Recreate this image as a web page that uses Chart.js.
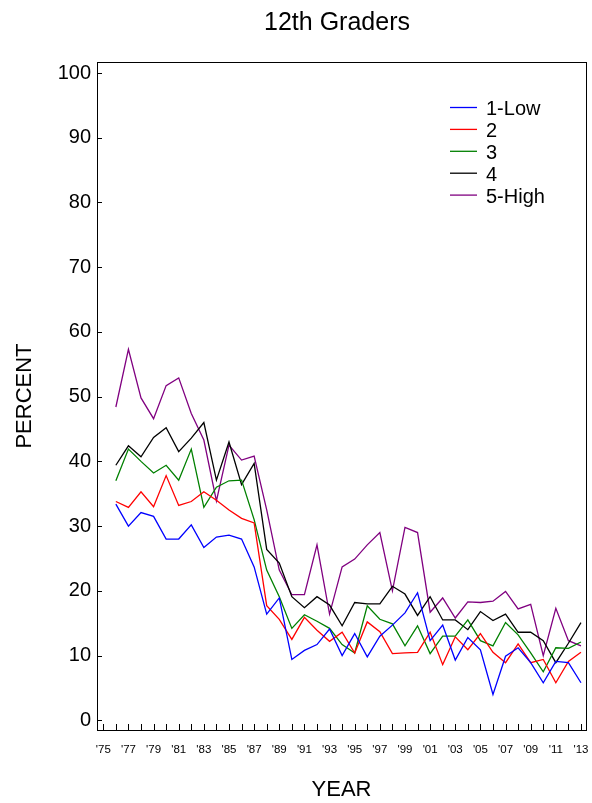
<!DOCTYPE html>
<html>
<head>
<meta charset="utf-8">
<title>12th Graders</title>
<script src="https://cdn.jsdelivr.net/npm/chart.js@4.4.1/dist/chart.umd.min.js"></script>
<style>
  html, body { margin: 0; padding: 0; background: #fff; }
  #wrap { width: 592px; height: 803px; }
</style>
</head>
<body>
<div id="wrap"><canvas id="gradersChart" width="592" height="803"></canvas></div>
<script>
// survey years (data starts in '76)
const years = [1976, 1977, 1978, 1979, 1980, 1981, 1982, 1983, 1984, 1985,
  1986, 1987, 1988, 1989, 1990, 1991, 1992, 1993, 1994, 1995,
  1996, 1997, 1998, 1999, 2000, 2001, 2002, 2003, 2004, 2005,
  2006, 2007, 2008, 2009, 2010, 2011, 2012, 2013];

// percent values per group
const lowValues = [33.4, 30.0, 32.1, 31.5, 28.0, 28.0, 30.2, 26.7, 28.3, 28.6,
  28.0, 23.7, 16.4, 18.9, 9.4, 10.8, 11.7, 14.1, 10.0, 13.4,
  9.8, 13.0, 14.7, 16.6, 19.7, 12.3, 14.7, 9.3, 12.8, 10.9,
  4.0, 9.9, 11.2, 8.9, 5.8, 9.1, 8.9, 5.8];
const group2Values = [33.8, 32.9, 35.3, 33.0, 37.8, 33.2, 33.8, 35.3, 34.0, 32.5,
  31.2, 30.5, 17.7, 15.6, 12.5, 15.9, 13.9, 12.2, 13.6, 10.4,
  15.2, 13.7, 10.3, 10.4, 10.5, 13.6, 8.6, 12.9, 10.9, 13.4,
  10.5, 8.9, 11.8, 8.9, 9.4, 5.8, 9.1, 10.5];
const group3Values = [37.0, 41.9, 40.0, 38.2, 39.4, 37.1, 41.9, 32.9, 36.0, 37.0,
  37.1, 31.0, 23.2, 19.1, 14.2, 16.3, 15.3, 14.2, 11.7, 10.4,
  17.7, 15.6, 14.9, 11.5, 14.6, 10.3, 13.0, 13.0, 15.5, 12.3,
  11.5, 15.1, 13.2, 10.4, 7.5, 11.2, 11.1, 12.1];
const group4Values = [39.4, 42.4, 40.7, 43.7, 45.2, 41.5, 43.6, 46.0, 37.1, 43.0,
  36.4, 39.7, 26.4, 24.3, 19.1, 17.4, 19.1, 17.8, 14.6, 18.2,
  18.0, 18.0, 20.7, 19.5, 16.2, 19.1, 15.5, 15.5, 14.0, 16.8,
  15.4, 16.4, 13.6, 13.6, 12.3, 8.9, 11.9, 15.1];
const highValues = [48.4, 57.3, 49.8, 46.6, 51.7, 52.9, 47.4, 43.3, 33.9, 42.5,
  40.2, 40.8, 32.5, 23.2, 19.4, 19.4, 27.1, 16.4, 23.7, 24.9,
  27.1, 29.0, 20.0, 29.8, 29.0, 16.7, 18.9, 15.8, 18.3, 18.2,
  18.4, 19.9, 17.2, 17.9, 10.0, 17.3, 12.3, 11.5];

const seriesLabels = ['1-Low', '2', '3', '4', '5-High'];
const seriesColors = ['#0000ff', '#ff0000', '#008000', '#000000', '#800080'];

// axis ticks
const xTickYears = [];
for (let y = 1975; y <= 2013; y++) xTickYears.push(y);
const yTickValues = [0, 10, 20, 30, 40, 50, 60, 70, 80, 90, 100];

const FONT = "Arial, 'Liberation Sans', Helvetica, sans-serif";

function toPoints(values) {
  return values.map((v, i) => ({ x: years[i], y: v }));
}

// frame round the plot, inward tick marks, title and legend
const chartDecor = {
  id: 'chartDecor',
  afterDraw(chart) {
    const ctx = chart.ctx;
    const area = chart.chartArea;
    const xs = chart.scales.x;
    const ys = chart.scales.y;
    ctx.save();
    ctx.strokeStyle = '#000';
    ctx.lineWidth = 1;
    ctx.strokeRect(Math.round(area.left) + 0.5, Math.round(area.top) + 0.5,
      Math.round(area.right - area.left), Math.round(area.bottom - area.top));

    ctx.beginPath();
    xTickYears.forEach(v => {
      const px = Math.round(xs.getPixelForValue(v)) + 0.5;
      ctx.moveTo(px, area.bottom);
      ctx.lineTo(px, area.bottom - 6);
    });
    yTickValues.forEach(v => {
      const py = Math.round(ys.getPixelForValue(v)) + 0.5;
      ctx.moveTo(area.left, py);
      ctx.lineTo(area.left + 5, py);
    });
    ctx.stroke();

    // title
    ctx.fillStyle = '#000';
    ctx.font = '25px ' + FONT;
    ctx.textAlign = 'center';
    ctx.textBaseline = 'middle';
    ctx.fillText('12th Graders', 337, 23);

    // legend
    ctx.font = '20px ' + FONT;
    ctx.textAlign = 'left';
    chart.data.datasets.forEach((ds, i) => {
      const ly = 107.5 + i * 21.9;
      ctx.strokeStyle = ds.borderColor;
      ctx.lineWidth = 1.3;
      ctx.beginPath();
      ctx.moveTo(450, ly);
      ctx.lineTo(477, ly);
      ctx.stroke();
      ctx.fillStyle = '#000';
      ctx.fillText(ds.label, 486, ly + 2);
    });
    ctx.restore();
  }
};

const allValues = [lowValues, group2Values, group3Values, group4Values, highValues];

new Chart(document.getElementById('gradersChart'), {
  type: 'line',
  data: {
    datasets: allValues.map((vals, i) => ({
      label: seriesLabels[i],
      data: toPoints(vals),
      borderColor: seriesColors[i],
      backgroundColor: seriesColors[i],
      borderWidth: 1.3,
      pointRadius: 0,
      tension: 0,
      fill: false
    }))
  },
  options: {
    responsive: false,
    animation: false,
    devicePixelRatio: 1,
    layout: { padding: { top: 62, right: 6, bottom: 0, left: 0 } },
    plugins: {
      legend: { display: false },
      title: { display: false },
      tooltip: { enabled: false }
    },
    scales: {
      x: {
        type: 'linear',
        min: 1974.5,
        max: 2013.4,
        afterBuildTicks: scale => { scale.ticks = xTickYears.map(v => ({ value: v })); },
        afterFit: scale => { scale.height = 73; },
        border: { display: false },
        grid: { drawOnChartArea: false, drawTicks: true, tickLength: 10, tickColor: 'rgba(0,0,0,0)' },
        ticks: {
          autoSkip: false,
          maxRotation: 0,
          padding: 3,
          color: '#000',
          font: { family: FONT, size: 11.5 },
          callback: v => (v % 2 === 1 ? "'" + String(v).slice(2) : '')
        },
        title: {
          display: true,
          text: 'YEAR',
          color: '#000',
          font: { family: FONT, size: 22 },
          padding: { top: 0, bottom: 0 }
        }
      },
      y: {
        min: -1.5,
        max: 101.7,
        afterBuildTicks: scale => { scale.ticks = yTickValues.map(v => ({ value: v })); },
        afterFit: scale => { scale.width = 97; },
        border: { display: false },
        grid: { drawOnChartArea: false, drawTicks: false },
        ticks: {
          padding: 6,
          color: '#000',
          font: { family: FONT, size: 20 }
        },
        title: {
          display: true,
          text: 'PERCENT',
          color: '#000',
          font: { family: FONT, size: 22 },
          padding: { top: 12, bottom: 0 }
        }
      }
    }
  },
  plugins: [chartDecor]
});
</script>
</body>
</html>
